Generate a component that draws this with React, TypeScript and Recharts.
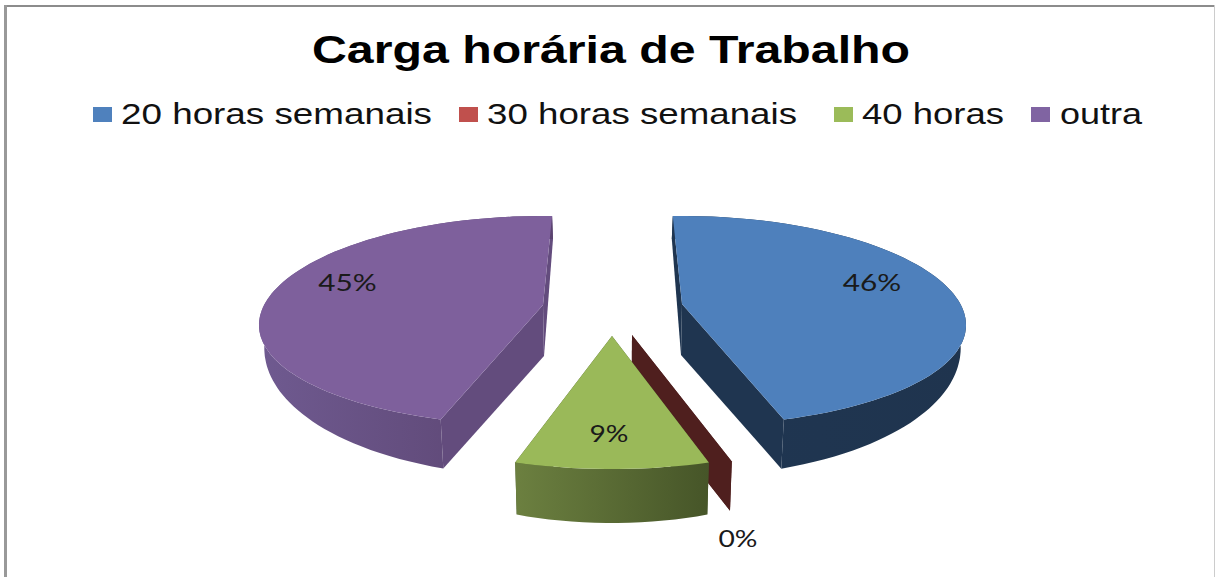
import { PieChart, Pie, Legend } from 'recharts';

const categories = ['20 horas semanais', '30 horas semanais', '40 horas', 'outra'];
const shares = [46, 0, 9, 45];
const colors = ['#4F81BD', '#C0504D', '#9BBB59', '#8064A2'];

const chartData = categories.map((name, i) => ({ name, value: shares[i], fill: colors[i] }));

const WIDTH = 1215;
const HEIGHT = 577;
const PIE_CX = 612;
const PIE_CY = 321;
const RADIUS = 284;
const TILT = 105 / 284;
const FIRST_SLICE_ANGLE = 91.8;

// how each slice is pulled out of the pie and how its sides are shaded
type SliceLook = {
    dx: number; dy: number; apexRise: number; lean: number; squeeze: number; depth: number;
    top: string; wall: string; labelDx: number; labelDy: number;
};
const sliceLooks: Record<string, SliceLook> = {
    '20 horas semanais': { dx: 70, dy: 0, apexRise: 17, lean: 0.5, squeeze: 1, depth: 51, top: '#4E80BC', wall: '#1F3550', labelDx: 190, labelDy: -13 },
    '30 horas semanais': { dx: 20, dy: 42, apexRise: 28, lean: 0, squeeze: 0.98, depth: 51, top: '#4F1F1E', wall: '#4F1F1E', labelDx: 106, labelDy: 212 },
    '40 horas': { dx: 0, dy: 43, apexRise: 28, lean: 0, squeeze: 0.95, depth: 54, top: '#9AB959', wall: '#46562A', labelDx: -3, labelDy: 106 },
    'outra': { dx: -69, dy: 0, apexRise: 16, lean: 4.2, squeeze: 1, depth: 51, top: '#7E609C', wall: '#634C7D', labelDx: -195.5, labelDy: -14 },
};

const rad = (deg: number) => (deg * Math.PI) / 180;

type Pt = { x: number; y: number; front: number };

// top surface point for a clockwise-from-top angle, on the squashed ellipse
const topPoint = (look: SliceLook, theta: number): Pt => {
    const phi = theta + 9 * Math.sin(rad(2 * theta)) + (look.lean * (1 + Math.cos(rad(theta)))) / 2;
    const s = Math.sin(rad(phi));
    const c = Math.cos(rad(phi));
    return {
        x: PIE_CX + look.dx + RADIUS * look.squeeze * s,
        y: PIE_CY + look.dy - RADIUS * TILT * c + 4 * s * s,
        front: Math.max(0, -c),
    };
};

// the wall gets shorter towards the sides of the disc
const lowerPoint = (look: SliceLook, p: Pt): Pt => ({
    x: PIE_CX + (p.x - PIE_CX) * 0.985,
    y: p.y + look.depth * (0.45 + 0.55 * p.front),
    front: p.front,
});

const toPath = (pts: { x: number; y: number }[]) =>
    pts.map((p, i) => `${i === 0 ? 'M' : 'L'}${p.x.toFixed(1)},${p.y.toFixed(1)}`).join(' ') + ' Z';

const PieSlice = (props: any) => {
    const look = sliceLooks[props.name];
    const from = 90 - props.startAngle;
    const to = 90 - props.endAngle;
    const steps = Math.max(1, Math.ceil((to - from) / 2));
    const arc = Array.from({ length: steps + 1 }, (_, i) => topPoint(look, from + ((to - from) * i) / steps));
    const apex: Pt = { x: PIE_CX + look.dx, y: PIE_CY + look.dy - look.apexRise, front: 1 };
    const first = arc[0];
    const last = arc[arc.length - 1];
    const lower = (p: Pt) => lowerPoint(look, p);
    const wallId = `wall-${categories.indexOf(props.name)}`;

    return (
        <g>
            <path d={toPath([first, apex, lower(apex), lower(first)])} fill={look.wall} />
            <path d={toPath([last, apex, lower(apex), lower(last)])} fill={look.wall} />
            <path d={toPath([...arc, ...arc.map(lower).reverse()])} fill={`url(#${wallId})`} />
            <path d={toPath([apex, ...arc])} fill={look.top} />
        </g>
    );
};

const SliceLabel = (props: any) => {
    const look = sliceLooks[props.name];
    const text = `${props.value}%`;
    return (
        <text
            x={PIE_CX + look.dx + look.labelDx}
            y={PIE_CY + look.dy - look.apexRise + look.labelDy}
            textAnchor="middle"
            fontFamily="Lato"
            fontSize={24}
            fill="#1A1A1A"
            textLength={text.length * 19.5}
            lengthAdjust="spacingAndGlyphs"
        >
            {text}
        </text>
    );
};

const legendSquares = [93, 459, 834, 1031];
const legendTexts = [121, 487, 862, 1060];
const legendLengths = [311, 310, 142, 82];

const ChartLegend = ({ payload }: any) => (
    <svg width={WIDTH} height={140} style={{ display: 'block' }}>
        {(payload || []).map((item: any, i: number) => (
            <g key={item.value}>
                <rect x={legendSquares[i]} y={107} width={19} height={15} fill={item.color} />
                <text
                    x={legendTexts[i]}
                    y={124}
                    fontFamily="Liberation Sans"
                    fontSize={30}
                    fill="#111"
                    textLength={legendLengths[i]}
                    lengthAdjust="spacingAndGlyphs"
                >
                    {item.value}
                </text>
            </g>
        ))}
    </svg>
);

const App = () => {
    return (
        <div style={{ position: 'absolute', left: 0, top: 0, width: WIDTH, height: HEIGHT, background: '#fff', overflow: 'hidden' }}>
            <div style={{ position: 'absolute', left: 4, top: 5, right: 0, height: 2, background: '#8C8C8C' }} />
            <div style={{ position: 'absolute', left: 4, top: 5, bottom: 0, width: 3, background: '#999' }} />
            <div style={{ position: 'absolute', right: 0, top: 5, bottom: 0, width: 1.5, background: '#CCC' }} />
            <PieChart width={WIDTH} height={HEIGHT} margin={{ top: 0, right: 0, bottom: 0, left: 0 }} style={{ position: 'absolute', left: 0, top: 0 }}>
                <defs>
                    <linearGradient id="wall-0" x1="0" y1="0" x2="1" y2="0">
                        <stop offset="0" stopColor="#1F3652" />
                        <stop offset="1" stopColor="#1F344E" />
                    </linearGradient>
                    <linearGradient id="wall-1" x1="0" y1="0" x2="1" y2="0">
                        <stop offset="0" stopColor="#4F1F1E" />
                        <stop offset="1" stopColor="#4F1F1E" />
                    </linearGradient>
                    <linearGradient id="wall-2" x1="0" y1="0" x2="1" y2="0">
                        <stop offset="0" stopColor="#6C8040" />
                        <stop offset="1" stopColor="#465528" />
                    </linearGradient>
                    <linearGradient id="wall-3" x1="0" y1="0" x2="1" y2="0">
                        <stop offset="0" stopColor="#6F5A90" />
                        <stop offset="1" stopColor="#5A436F" />
                    </linearGradient>
                </defs>
                <text
                    x={312}
                    y={63}
                    fontFamily="Liberation Sans"
                    fontWeight="bold"
                    fontSize={39}
                    fill="#000"
                    textLength={598}
                    lengthAdjust="spacingAndGlyphs"
                >
                    Carga horária de Trabalho
                </text>
                <Legend
                    content={<ChartLegend />}
                    verticalAlign="top"
                    align="left"
                    wrapperStyle={{ left: 0, top: 0, width: WIDTH }}
                />
                <Pie
                    data={chartData}
                    dataKey="value"
                    nameKey="name"
                    cx={PIE_CX}
                    cy={PIE_CY}
                    outerRadius={RADIUS}
                    startAngle={FIRST_SLICE_ANGLE}
                    endAngle={FIRST_SLICE_ANGLE - 360}
                    stroke="none"
                    shape={PieSlice}
                    label={SliceLabel}
                    labelLine={false}
                    isAnimationActive={false}
                />
            </PieChart>
        </div>
    );
};

export default App;
